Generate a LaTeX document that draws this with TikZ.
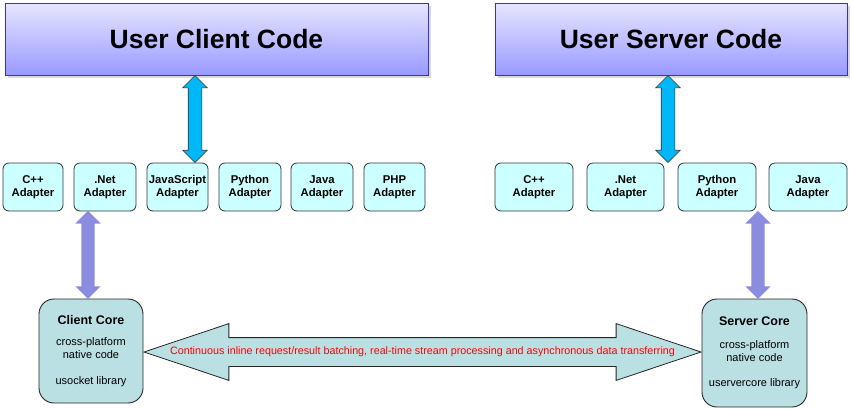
\documentclass[tikz,border=0pt]{standalone}
\usepackage{fontspec}
\setmainfont{Liberation Sans}
\usetikzlibrary{shapes.arrows,shadows,calc}

\definecolor{codetop}{HTML}{E6E6FF}
\definecolor{codebot}{HTML}{9999FF}
\definecolor{codeline}{HTML}{3333CC}
\definecolor{adfill}{HTML}{CCFFFF}
\definecolor{corefill}{HTML}{BBE0E3}
\definecolor{bluearr}{HTML}{00B8F8}
\definecolor{purplearr}{HTML}{8B8BE0}

\newcommand{\corehead}[1]{{\fontsize{12.5}{15}\selectfont\bfseries #1}}

\begin{document}
\begin{tikzpicture}[x=1pt, y=-1pt,
    codebox/.style={draw=codeline, line width=1pt, top color=codetop, bottom color=codebot,
      drop shadow={shadow xshift=2.5pt, shadow yshift=-2.5pt, opacity=0.3},
      minimum height=72, inner sep=0pt, font=\fontsize{26.5}{30}\selectfont\bfseries},
    adapter/.style={draw=black!80, fill=adfill, rounded corners=6pt, line width=0.8pt,
      minimum height=48, inner sep=0pt, align=center, font=\fontsize{11.3}{13}\selectfont\bfseries},
    core/.style={draw=black!85, fill=corefill, rounded corners=15pt, line width=0.9pt,
      inner sep=0pt, align=center, font=\fontsize{11}{13}\selectfont},
    bluearrow/.style={double arrow, draw=black!80, fill=bluearr, line width=0.6pt, rotate=90,
      inner sep=6.5pt, double arrow head extend=5.5pt, double arrow tip angle=90},
    purplearrow/.style={double arrow, fill=purplearr, rotate=90,
      inner sep=6.5pt, double arrow head extend=6pt, double arrow tip angle=90},
    bigarrow/.style={double arrow, draw=black!85, fill=corefill, line width=0.8pt,
      inner xsep=0pt, inner ysep=14pt, double arrow head extend=14pt, double arrow tip angle=37},
    flowtext/.style={text=red, font=\fontsize{10.75}{12}\selectfont, inner sep=0pt}]
    \useasboundingbox (0,0) rectangle (853,408);

    % User code
    \node[codebox, minimum width=423] (ucc) at (216.5,39) {User Client Code};
    \node[codebox, minimum width=352] (usc) at (671,39) {User Server Code};

    % Client adapters
    \node[adapter, minimum width=60] (ccpp) at (33,187) {C++\\Adapter};
    \node[adapter, minimum width=62] (cnet) at (105,187) {.Net\\Adapter};
    \node[adapter, minimum width=61] (cjs) at (177.5,187) {JavaScript\\Adapter};
    \node[adapter, minimum width=62] (cpy) at (250,187) {Python\\Adapter};
    \node[adapter, minimum width=62] (cjava) at (322,187) {Java\\Adapter};
    \node[adapter, minimum width=61] (cphp) at (394.5,187) {PHP\\Adapter};

    % Server adapters
    \node[adapter, minimum width=78] (scpp) at (534,187) {C++\\Adapter};
    \node[adapter, minimum width=77] (snet) at (625.5,187) {.Net\\Adapter};
    \node[adapter, minimum width=78] (spy) at (717,187) {Python\\Adapter};
    \node[adapter, minimum width=78] (sjava) at (808,187) {Java\\Adapter};

    % Cores
    \node[core, minimum width=104, minimum height=104] (cc) at (91,351)
      {\corehead{Client Core}\\[8.5pt]cross-platform\\native code\\[13pt]usocket library};
    \node[core, minimum width=105, minimum height=108] (sc) at (754.5,353)
      {\corehead{Server Core}\\[10.5pt]cross-platform\\native code\\[12pt]uservercore library};

    % Arrows between layers
    \node[bluearrow, minimum height=87] (cup) at ($(ucc.south -| 195,0)!.5!(cjs.north -| 195,0)$) {};
    \node[bluearrow, minimum height=87] (sup) at ($(usc.south -| 668,0)!.5!(snet.north -| 668,0)$) {};
    \node[purplearrow, minimum height=88] (cdown) at ($(cnet.south -| 88,0)!.5!(cc.north -| 88,0)$) {};
    \node[purplearrow, minimum height=88] (sdown) at ($(spy.south -| 758,0)!.5!(sc.north -| 758,0)$) {};

    % Client core <-> server core
    \node[bigarrow, minimum height=557] (flow) at ($(cc.east)!.5!(sc.west)$) {};
    \node[flowtext] at (flow) {Continuous inline request/result batching, real-time stream processing and asynchronous data transferring};
\end{tikzpicture}
\end{document}
